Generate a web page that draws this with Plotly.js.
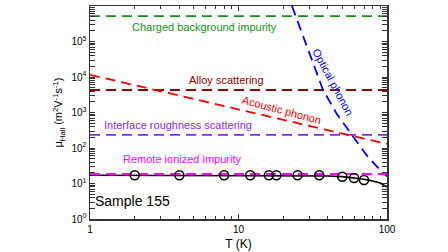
<!DOCTYPE html>
<html><head><meta charset="utf-8">
<script src="https://cdn.plot.ly/plotly-3.0.1.min.js"></script>
<style>html,body{margin:0;padding:0;background:#fff}#g{width:448px;height:252px}</style>
</head><body><div id="g"></div>
<script>
// Temperature range and constant-limit mobilities (m^2 V^-1 s^-1)
var T_range = [1, 100];
var mu_charged = [5.2e5, 5.2e5];
var mu_alloy = [4.3e3, 4.3e3];
var mu_interface = [235, 235];
var mu_remote = [18.5, 18.5];
// Acoustic phonon (straight in log-log)
var T_acoustic = [1, 100];
var mu_acoustic = [1.15e4, 130];
// Optical phonon
var T_optical = [22.9, 29.4, 37.1, 46, 58.1, 73, 92.5, 100];
var mu_optical = [1.0e6, 5.7e4, 4.3e3, 900, 232, 62, 21, 16];
// Total fit (solid line)
var T_total = [1, 2, 5, 10, 20, 30, 40, 50, 60, 70, 80, 90, 100];
var mu_total = [17.1, 17.1, 17.0, 17.0, 16.9, 16.7, 16.3, 15.6, 14.5, 13.2, 11.8, 10.3, 8.0];
// Measured data (Sample 155)
var T_data = [2, 4, 8, 12, 16, 18, 25, 35, 50, 60, 70];
var mu_data = [17, 17, 17, 17, 17, 17, 17, 17, 15.5, 14.3, 12.6];
// Tick labels
var y_tickvals = [1, 10, 100, 1000, 10000, 100000, 1000000];
var y_ticktext = ['10<sup>0</sup>','10<sup>1</sup>','10<sup>2</sup>','10<sup>3</sup>','10<sup>4</sup>','10<sup>5</sup>','10<sup>6</sup>'];
var x_tickvals = [1, 10, 100];
var x_ticktext = ['1', '10', '100'];
var minor_mult = [2, 3, 4, 5, 6, 7, 8, 9];

function minorVals(decades){ var v=[]; decades.forEach(function(d){ minor_mult.forEach(function(m){ v.push(m*d); }); }); return v; }
var x_minor = minorVals([1, 10]);
var y_minor = minorVals([1, 10, 100, 1000, 10000, 100000]);

var dash = '10px,6px';
function dline(x, y, c){ return {x:x, y:y, mode:'lines', line:{color:c, width:1.8, dash:dash}, hoverinfo:'skip', showlegend:false}; }
var traces = [
  dline(T_range, mu_charged, '#12921a'),
  dline(T_range, mu_alloy, '#8b0000'),
  dline(T_range, mu_interface, '#8a2be2'),
  dline(T_acoustic, mu_acoustic, '#ff0000'),
  dline(T_optical, mu_optical, '#0000ff'),
  {x:T_total, y:mu_total, mode:'lines', line:{color:'#000', width:1.6}, showlegend:false},
  dline(T_range, mu_remote, '#ff00ff'),
  {x:T_data, y:mu_data, mode:'markers', marker:{symbol:'circle-open', size:9, color:'#000', line:{width:1.5}}, showlegend:false},
  // carrier for the minor-tick overlay axis (invisible)
  {x:T_range, y:mu_remote, xaxis:'x2', mode:'lines', line:{width:0, color:'rgba(0,0,0,0)'}, hoverinfo:'skip', showlegend:false}
];
var F = 'Liberation Sans, Arial, sans-serif';
function ann(t, x, y, c, size, ang){ return {text:t, x:x, y:y, xref:'paper', yref:'paper', showarrow:false, font:{family:F, size:size, color:c}, textangle:ang||0, xanchor:'center', yanchor:'middle'}; }
var layout = {
  width:448, height:252,
  margin:{l:90, r:61, t:6, b:33},
  paper_bgcolor:'#fff', plot_bgcolor:'#fff',
  font:{family:F, size:10, color:'#000'},
  xaxis:{type:'log', range:[0,2], tickmode:'array', tickvals:x_tickvals, ticktext:x_ticktext,
    ticks:'inside', ticklen:5, tickwidth:1, tickcolor:'#333', showline:true, linecolor:'#333', linewidth:1.5, mirror:'allticks',
    showgrid:false, zeroline:false, tickfont:{size:10},
    title:{text:'T (K)', font:{size:12}, standoff:6}},
  xaxis2:{type:'log', range:[0,2], overlaying:'x', anchor:'y', side:'bottom', tickmode:'array', tickvals:x_minor,
    showticklabels:false, ticks:'inside', ticklen:3, tickwidth:1, tickcolor:'#333', showline:false, mirror:'allticks',
    showgrid:false, zeroline:false},
  yaxis:{type:'log', range:[0,6], tickmode:'array', tickvals:y_tickvals, ticktext:y_ticktext,
    ticks:'inside', ticklen:5, tickwidth:1, tickcolor:'#333', showline:true, linecolor:'#333', linewidth:1.5, mirror:'allticks',
    showgrid:false, zeroline:false, tickfont:{size:10},
    minor:{ticks:'inside', tickmode:'array', tickvals:y_minor, ticklen:3, tickwidth:1, tickcolor:'#333', showgrid:false},
    title:{text:'μ<sub>Hall</sub> (m<sup>2</sup>V<sup>-1</sup>s<sup>-1</sup>)', font:{size:11}, standoff:6}},
  annotations:[
    ann('Charged background impurity', 0.384, 0.901, '#12921a', 11),
    ann('Alloy scattering', 0.458, 0.653, '#8b0000', 11),
    ann('Acoustic phonon', 0.646, 0.512, '#ff0000', 11, 15),
    ann('Optical phonon', 0.818, 0.643, '#0000ff', 11, 62),
    ann('Interface roughness scattering', 0.296, 0.441, '#8a2be2', 11),
    ann('Remote ionized impurity', 0.310, 0.282, '#ff00ff', 11),
    ann('Sample 155', 0.143, 0.0845, '#000', 14)
  ]
};
Plotly.newPlot('g', traces, layout, {staticPlot:true, displayModeBar:false});
</script></body></html>
